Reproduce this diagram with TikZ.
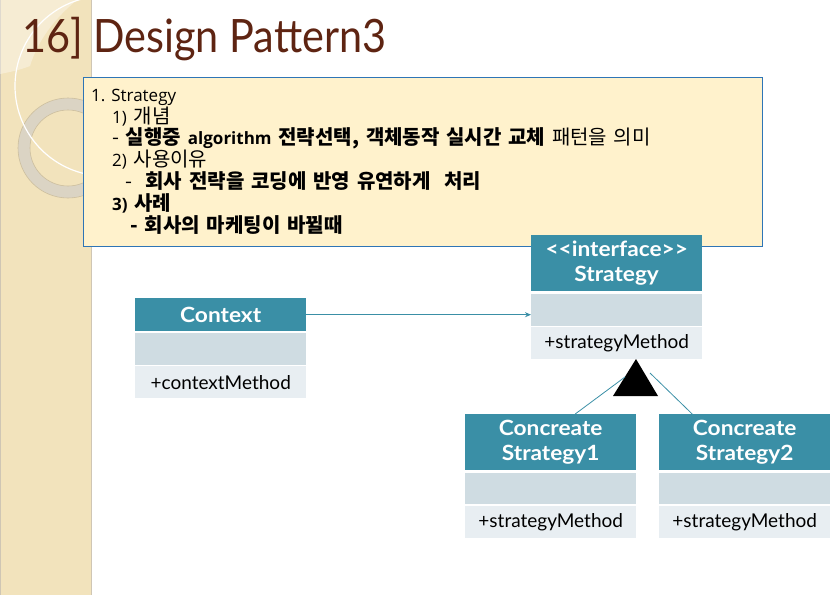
\documentclass[tikz,border=0pt]{standalone}
\usepackage{fontspec}
\usetikzlibrary{arrows.meta,calc}
\setmainfont{Lato}
\newfontfamily\kr{Noto Sans CJK KR}[WordSpace=1.5]
\newfontfamily\latf{Open Sans}
\newcommand\lat[1]{{\latf\fontsize{17}{20}\selectfont #1}}
\newfontfamily\uml{Lato}
\newfontfamily\umlhead{Lato}[FakeStretch=1.08]
\newfontfamily\titlefont{Lato}[FakeStretch=0.9]
\definecolor{teal1}{HTML}{3A8FA6}
\definecolor{attrc}{HTML}{CFDCE2}
\definecolor{methc}{HTML}{E8EEF2}
\definecolor{stripc}{HTML}{F2E3BC}
\definecolor{stripe}{HTML}{CFC6B4}
\definecolor{ringc}{HTML}{DAD4C5}
\definecolor{ringe}{HTML}{CDBF9E}
\definecolor{boxf}{HTML}{FFF2CC}
\definecolor{boxb}{HTML}{2E75B6}
\definecolor{titlec}{HTML}{5E2412}
\tikzset{
  hdr/.style={fill=teal1, text=white, font=\umlhead\bfseries\fontsize{21}{25}\selectfont,
    minimum width=171pt, anchor=north west, inner sep=0pt, align=center},
  attrbox/.style={fill=attrc, minimum width=171pt, minimum height=32pt, anchor=north west, inner sep=0pt},
  methbox/.style={fill=methc, minimum width=171pt, minimum height=32pt, anchor=north west, inner sep=0pt,
    font=\uml\fontsize{19}{24}\selectfont},
  ln/.style={anchor=base west, inner sep=0pt, font=\kr\fontsize{20}{22}\selectfont},
  link/.style={draw=teal1, line width=0.8pt},
}
\begin{document}
\begin{tikzpicture}[x=1pt,y=-1pt]
\useasboundingbox (0,0) rectangle (833,595);
% left strip
\fill[stripc] (0,0) rectangle (91,595);
\draw[stripe, line width=1.2pt] (91.6,0) -- (91.6,595);
\draw[stripe, line width=0.6pt] (0.3,0) -- (0.3,595);
\begin{scope}
  \clip (0,0) rectangle (91,595);
  \fill[white, opacity=0.35] (0,0) -- (77,0) .. controls (55,18) and (38,40) .. (30,66) .. controls (20,70) and (10,72) .. (0,74) -- cycle;
  \draw[ringc, line width=12pt, opacity=0.95] (68,148) circle (44);
  \draw[ringe, line width=0.6pt] (68,148) circle (50);
  \draw[ringe, line width=0.6pt] (68,148) circle (38);
  \draw[white, line width=1.2pt] (105,86) circle (90);
\end{scope}
% title
\node[anchor=base west, inner sep=0pt, text=titlec, font=\titlefont\fontsize{46}{50}\selectfont] (title) at (22,52) {16] Design Pattern3};
% text box
\node[draw=boxb, fill=boxf, line width=1.3pt, anchor=north west, minimum width=679pt, minimum height=169pt, inner sep=0pt] (tbox) at (83,77) {};
\node[ln] (l1) at (91,101.5) {\lat{1. Strategy}};
\node[ln] (l2) at (112,123) {\lat{1)} 개념};
\node[ln] (l3) at (112,144.5) {- \textbf{실행중 \lat{algorithm} 전략선택, 객체동작 실시간 교체} 패턴을 의미};
\node[ln] (l4) at (112,166) {\lat{2)} 사용이유};
\node[ln] (l5) at (125,188.5) {-\ \ \textbf{회사 전략을 코딩에 반영 유연하게\ \ 처리}};
\node[ln] (l6) at (112,210) {\textbf{\lat{3)} 사례}};
\node[ln] (l7) at (130,232) {\textbf{- 회사의 마케팅이 바뀔때}};
% Context
\node[hdr, minimum height=33pt] (ctxH) at (135,298) {Context};
\node[attrbox] (ctxA) at (135,333) {};
\node[methbox] (ctxM) at (135,366) {+contextMethod};
% Strategy
\node[hdr, minimum height=56pt] (stH) at (531,235) {<\kern0pt<interface>\kern0pt>\\Strategy};
\node[attrbox] (stA) at (531,294) {};
\node[methbox] (stM) at (531,327) {+strategyMethod};
% Concrete 1
\node[hdr, minimum height=56pt] (c1H) at (465,414) {Concreate\\Strategy1};
\node[attrbox, minimum height=31pt] (c1A) at (465,473) {};
\node[methbox] (c1M) at (465,506) {+strategyMethod};
% Concrete 2
\node[hdr, minimum height=56pt] (c2H) at (659,414) {Concreate\\Strategy2};
\node[attrbox, minimum height=31pt] (c2A) at (659,473) {};
\node[methbox] (c2M) at (659,506) {+strategyMethod};
% association
\draw[link, -{Stealth[length=6pt,width=5pt]}] (ctxH.east) -- (ctxH.east -| stA.west);
% inheritance triangle
\coordinate (apex) at (636,359);
\coordinate (bl) at (613,396);
\coordinate (br) at (658,396);
\fill[black] (apex) -- (bl) -- (br) -- cycle;
\coordinate (j1) at (625,377);
\coordinate (j2) at (650,373);
\draw[link] (j1) -- ([xshift=24.5pt]c1H.north);
\draw[link] (j2) -- ([xshift=-52.5pt]c2H.north);
\end{tikzpicture}
\end{document}
